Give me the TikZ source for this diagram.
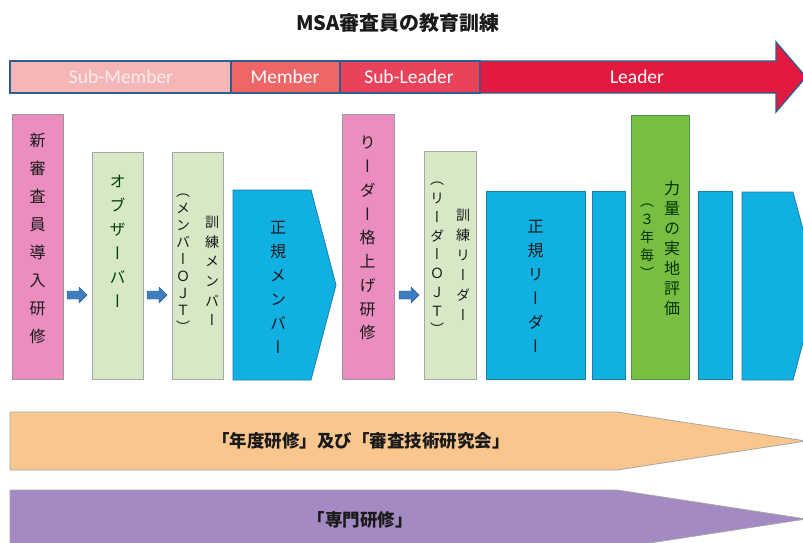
\documentclass[tikz,border=0pt]{standalone}
\usepackage{fontspec}
\setmainfont{Noto Sans CJK JP}
\newfontfamily\jp{Noto Sans CJK JP}
\newfontfamily\vjp[RawFeature=+vert]{Noto Sans CJK JP}
\newfontfamily\lat{Carlito}
\definecolor{subm}{HTML}{F4B6B6}
\definecolor{memb}{HTML}{EF6666}
\definecolor{subl}{HTML}{E8435B}
\definecolor{lead}{HTML}{E21A40}
\definecolor{barline}{HTML}{2E5E8E}
\definecolor{pinkf}{HTML}{EB8DBF}
\definecolor{greenl}{HTML}{D6E8C6}
\definecolor{bluef}{HTML}{10B0E3}
\definecolor{blueline}{HTML}{1C7FA8}
\definecolor{greenf}{HTML}{78BE43}
\definecolor{arrf}{HTML}{3F7CC0}
\definecolor{peach}{HTML}{F9C78E}
\definecolor{purp}{HTML}{A48AC2}
\definecolor{txt}{HTML}{1A1A1A}
\tikzset{
  seg/.style={draw=barline, line width=1.3pt},
  boxbase/.style={anchor=south west, inner sep=0, line width=0.8pt},
  pinkbox/.style={boxbase, fill=pinkf, draw=gray!80},
  lgbox/.style={boxbase, fill=greenl, draw=gray!70},
  bluebox/.style={boxbase, fill=bluef, draw=blueline},
  gbox/.style={boxbase, fill=greenf, draw=green!40!black!70},
  vtxt/.style={inner sep=0, align=center, anchor=north, text=txt},
  vbig/.style={vtxt, font=\vjp\fontsize{16}{#1}\selectfont},
  vsmall/.style={vtxt, font=\vjp\fontsize{14}{#1}\selectfont},
  seglab/.style={inner sep=0, font=\lat\fontsize{19.5}{22}\selectfont, text=white},
  smallarrow/.style={fill=arrf, draw=arrf!70!black, line width=0.4pt},
  band/.style={draw=gray!70, line width=0.8pt},
  bandlab/.style={inner sep=0, font=\jp\bfseries\fontsize{17.5}{20}\selectfont, text=txt}
}
\begin{document}
\begin{tikzpicture}[x=1pt,y=-1pt]
\useasboundingbox (0,0) rectangle (803,542);
\fill[white] (0,0) rectangle (803,542);
\begin{scope}
\clip (0,0) rectangle (803,542);
% title
\node[inner sep=0, font=\jp\bfseries\fontsize{20}{22}\selectfont, text=txt] (title) at (398,23) {MSA審査員の教育訓練};
% top bar
\filldraw[seg, fill=subm] (10,61) rectangle (231,93);
\filldraw[seg, fill=memb] (231,61) rectangle (340,93);
\filldraw[seg, fill=subl] (340,61) rectangle (480,93);
\filldraw[seg, fill=lead] (480,61) -- (776,61) -- (776,42) -- (806,77) -- (776,112) -- (776,93) -- (480,93) -- cycle;
\node[seglab, text=subm!25] (ls) at (121,77) {Sub-Member};
\node[seglab] (lm) at (285,77) {Member};
\node[seglab] (lsl) at (409,77) {Sub-Leader};
\node[seglab] (ll) at (637,77) {Leader};
% boxes
\node[pinkbox, minimum width=51pt, minimum height=265pt] (b1) at (12,380) {};
\node[vbig=28] (t1) at (37.5,133) {新\\審\\査\\員\\導\\入\\研\\修};
\filldraw[smallarrow] (67,291) -- (79,291) -- (79,287) -- (87,295) -- (79,303) -- (79,299) -- (67,299) -- cycle;
\node[lgbox, minimum width=51pt, minimum height=227pt] (b2) at (92,380) {};
\node[vbig=24, text=green!25!black] (t2) at (117.5,175) {オ\\ブ\\ザ\\ー\\バ\\ー};
\filldraw[smallarrow] (147,291) -- (159,291) -- (159,287) -- (167,295) -- (159,303) -- (159,299) -- (147,299) -- cycle;
\node[lgbox, minimum width=51pt, minimum height=227pt] (b3) at (172,380) {};
\node[vsmall=19.6] (t3a) at (212,216) {訓\\練\\メ\\ン\\バ\\ー};
\node[vsmall=17] (t3b) at (183,194) {（\\メ\\ン\\バ\\ー\\Ｏ\\Ｊ\\Ｔ\\）};
% pentagon 1
\filldraw[fill=bluef, draw=blueline, line width=0.8pt] (233,190) coordinate (p1a) -- (311,190) -- (336,285) coordinate (p1tip) -- (311,380) -- (233,380) -- cycle;
\node[vbig=24] (t4) at (278,221) {正\\規\\メ\\ン\\バ\\ー};
\node[pinkbox, minimum width=52pt, minimum height=265pt] (b5) at (342,380) {};
\node[vbig=23.75] (t5) at (367.5,136) {り\\ー\\ダ\\ー\\格\\上\\げ\\研\\修};
\filldraw[smallarrow] (399,291) -- (411,291) -- (411,287) -- (419,295) -- (411,303) -- (411,299) -- (399,299) -- cycle;
\node[lgbox, minimum width=52pt, minimum height=228pt] (b6) at (424,380) {};
\node[vsmall=20] (t6a) at (463,209) {訓\\練\\リ\\ー\\ダ\\ー};
\node[vsmall=18.75] (t6b) at (437,182) {（\\リ\\ー\\ダ\\ー\\Ｏ\\Ｊ\\Ｔ\\）};
\node[bluebox, minimum width=99pt, minimum height=188pt] (b7) at (486,380) {};
\node[vbig=24] (t7) at (535.5,220) {正\\規\\リ\\ー\\ダ\\ー};
\node[bluebox, minimum width=33pt, minimum height=188pt] (b8) at (592,380) {};
\node[gbox, minimum width=58pt, minimum height=264pt] (b9) at (631,380) {};
\node[vbig=20, text=green!20!black] (t9a) at (672,181) {力\\量\\の\\実\\地\\評\\価};
\node[vsmall=18, text=green!20!black] (t9b) at (647,204) {（\\３\\年\\毎\\）};
\node[bluebox, minimum width=34pt, minimum height=188pt] (b10) at (698,380) {};
\filldraw[fill=bluef, draw=blueline, line width=0.8pt] (742,192) coordinate (p2a) -- (793,192) -- (818,286) coordinate (p2tip) -- (793,380) -- (742,380) -- cycle;
% bands
\filldraw[band, fill=peach] (10,412) coordinate (q1) -- (617,412) -- (806,441) coordinate (q1tip) -- (617,470) -- (10,470) -- cycle;
\node[bandlab] (bt1) at (361,441) {「年度研修」及び「審査技術研究会」};
\filldraw[band, fill=purp] (10,490) coordinate (q2) -- (617,490) -- (806,519) coordinate (q2tip) -- (617,548) -- (10,548) -- cycle;
\node[bandlab] (bt2) at (360,520) {「専門研修」};
\end{scope}
\end{tikzpicture}
\end{document}
